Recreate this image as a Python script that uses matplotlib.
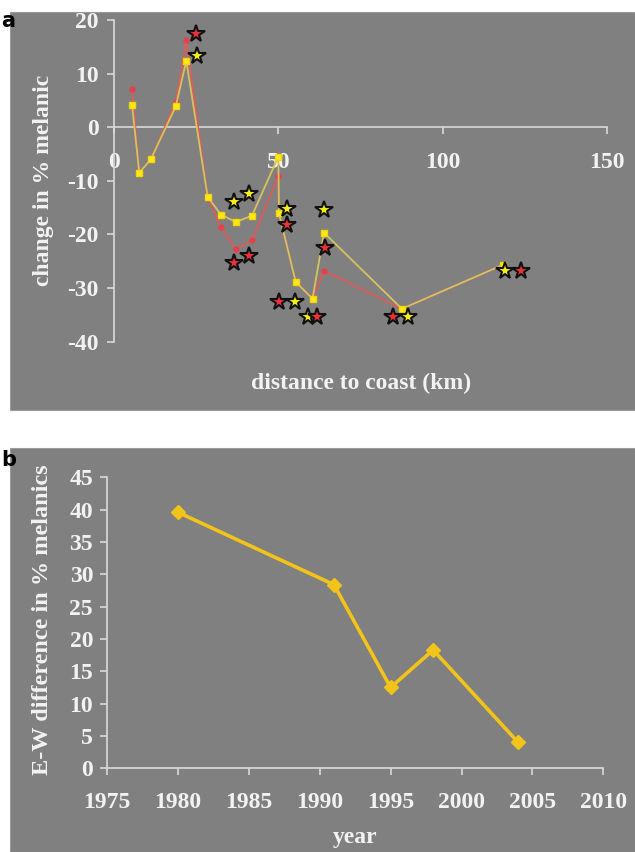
import matplotlib
matplotlib.use("Agg")
import matplotlib.pyplot as plt
from matplotlib.patches import Rectangle

# ---------------- data ----------------
# panel a: change in % melanic vs distance to coast
dist_km = [5.5, 7.7, 11.2, 18.8, 22.0, 28.5, 32.5, 37.1, 42.0, 50.0, 50.2, 55.3, 60.4, 63.9, 87.6, 118.3]
change_yellow = [4.1, -8.5, -6.0, 3.9, 12.4, -13.0, -16.3, -17.7, -16.5, -5.5, -16.1, -28.9, -32.0, -19.7, -33.9, -25.7]
change_red = [7.2, -8.5, -6.0, 4.7, 16.2, -13.0, -18.7, -22.8, -21.1, -9.1, -16.1, -28.9, -32.0, -26.8, -33.9, -25.7]

star_yellow_km = [25.3, 36.6, 41.1, 52.7, 55.0, 59.1, 64.0, 89.6, 119.1]
star_yellow_val = [13.2, -13.9, -12.5, -15.3, -32.6, -35.4, -15.4, -35.4, -26.9]
star_red_km = [25.1, 36.6, 41.1, 50.2, 52.7, 61.8, 64.1, 84.9, 123.8]
star_red_val = [17.35, -25.4, -24.0, -32.6, -18.3, -35.4, -22.6, -35.4, -26.9]

xticks_a = [0, 50, 100, 150]
yticks_a = [-40, -30, -20, -10, 0, 10, 20]

# panel b: E-W difference in % melanics by year
years = [1980, 1991, 1995, 1998, 2004]
ew_diff = [39.6, 28.4, 12.5, 18.3, 4.0]
xticks_b = [1975, 1980, 1985, 1990, 1995, 2000, 2005, 2010]
yticks_b = [0, 5, 10, 15, 20, 25, 30, 35, 40, 45]

# ---------------- style ----------------
W, H = 635, 852
BG = "#808080"
FG = "#f2f2f2"
AX = "#d9d9d9"
SERIF = ["Liberation Serif", "DejaVu Serif"]
FS = 17

fig = plt.figure(figsize=(W / 100, H / 100), dpi=100)
fig.patch.set_facecolor("white")

def fx(px):
    return px / W

def fy(py):
    return 1 - py / H

# gray panels
fig.patches.append(Rectangle((fx(10), fy(410)), fx(625), (410 - 12) / H,
                             transform=fig.transFigure, facecolor=BG, edgecolor="#9a9a9a",
                             linewidth=0.8, zorder=-5))
fig.patches.append(Rectangle((fx(10), fy(852)), fx(625), (852 - 448) / H,
                             transform=fig.transFigure, facecolor=BG, edgecolor="#9a9a9a",
                             linewidth=0.8, zorder=-5))

def style_axis(ax):
    ax.set_facecolor("none")
    for s in ["top", "right"]:
        ax.spines[s].set_visible(False)
    for s in ["left", "bottom"]:
        ax.spines[s].set_color(AX)
        ax.spines[s].set_linewidth(1.2)
    ax.tick_params(colors=AX, width=1.2, length=5, direction="out")
    for lab in ax.get_xticklabels() + ax.get_yticklabels():
        lab.set_fontfamily(SERIF)
        lab.set_fontweight("bold")
        lab.set_fontsize(FS)
        lab.set_color(FG)

# ---------------- panel a ----------------
ax1 = fig.add_axes([fx(114), fy(341.5), fx(607 - 114), (341.5 - 20) / H])
ax1.set_zorder(2)
ax1.set_xlim(0, 150)
ax1.set_ylim(-40, 20)
ax1.spines["bottom"].set_position(("data", 0))
ax1.set_xticks(xticks_a)
ax1.set_yticks(yticks_a)
ax1.set_xticklabels([str(v) for v in xticks_a])
ax1.set_yticklabels([str(v) for v in yticks_a])
style_axis(ax1)
ax1.tick_params(axis="x", pad=13)
ax1.tick_params(axis="y", pad=6)

ax1.plot(dist_km, change_red, color="#e05a5a", lw=1.3, marker="o", ms=3.5,
         mfc="#e8404a", mec="#e8404a", zorder=3)
ax1.plot(dist_km, change_yellow, color="#d6c25e", lw=1.3, marker="s", ms=4.5,
         mfc="#ffe81a", mec="#f5d800", zorder=4)
ax1.plot(star_yellow_km, star_yellow_val, linestyle="none", marker="*", ms=13,
         mfc="#f4ee10", mec="#111111", mew=1.5, zorder=5)
ax1.plot(star_red_km, star_red_val, linestyle="none", marker="*", ms=13,
         mfc="#e8323a", mec="#111111", mew=1.5, zorder=6)

fig.text(fx(44), fy(180), "change in % melanic", rotation=90, ha="center", va="center",
         family=SERIF, weight="bold", fontsize=FS, color=FG)
fig.text(fx(361), fy(383), "distance to coast (km)", ha="center", va="center",
         family=SERIF, weight="bold", fontsize=FS, color=FG)
fig.text(fx(1), fy(11), "a", ha="left", va="top", family="DejaVu Sans",
         weight="bold", fontsize=15, color="black")

# ---------------- panel b ----------------
ax2 = fig.add_axes([fx(107), fy(768.3), fx(603.3 - 107), (768.3 - 477.3) / H])
ax2.set_zorder(2)
ax2.set_xlim(1975, 2010)
ax2.set_ylim(0, 45)
ax2.set_xticks(xticks_b)
ax2.set_yticks(yticks_b)
ax2.set_xticklabels([str(v) for v in xticks_b])
ax2.set_yticklabels([str(v) for v in yticks_b])
style_axis(ax2)
ax2.tick_params(axis="x", pad=12)
ax2.tick_params(axis="y", pad=5)

ax2.plot(years, ew_diff, color="#f2c318", lw=2.6, marker="D", ms=7.5,
         mfc="#f2c318", mec="#f2c318", zorder=4, clip_on=False)

fig.text(fx(43), fy(620), "E-W difference in % melanics", rotation=90, ha="center",
         va="center", family=SERIF, weight="bold", fontsize=17.5, color=FG)
fig.text(fx(355), fy(838), "year", ha="center", va="center",
         family=SERIF, weight="bold", fontsize=FS, color=FG)
fig.text(fx(1), fy(450), "b", ha="left", va="top", family="DejaVu Sans",
         weight="bold", fontsize=15, color="black")

fig.savefig("out.png", dpi=100)
